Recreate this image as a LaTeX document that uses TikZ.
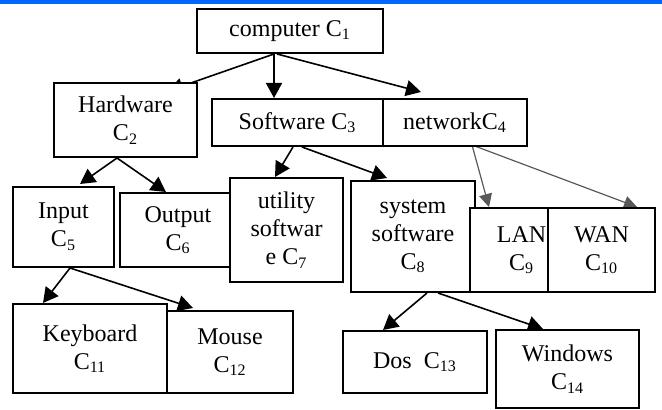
\documentclass[tikz,border=0pt]{standalone}
\usepackage{fontspec}
\setmainfont{Liberation Serif}
\usetikzlibrary{arrows.meta, backgrounds}
\definecolor{topbar}{RGB}{0,102,255}
\tikzstyle{box} = [rectangle, draw=black, fill=white, line width=1pt, align=center, inner sep=2pt, font=\fontsize{12}{14}\selectfont]
\tikzstyle{arrow} = [line width=0.8pt, -{Triangle[length=7.5pt,width=8pt]}]
\tikzstyle{greyarrow} = [line width=0.6pt, draw=black!65, -{Triangle[length=6.5pt,width=6.5pt]}]
\begin{document}
\begin{tikzpicture}[x=0.5pt, y=-0.5pt]
            \useasboundingbox (0,0) rectangle (662,410);
            \fill [topbar] (0,0) rectangle (662,4);
            \node (comp) [box, minimum width=93pt, minimum height=22pt] at (290,31) {computer C\textsubscript{1}};
            \node (hw) [box, minimum width=71.5pt, minimum height=37pt] at (125.5,120) {Hardware\\C\textsubscript{2}};
            \node (sw) [box, minimum width=85.5pt, minimum height=23.5pt] at (297.5,122.5) {Software C\textsubscript{3}};
            \node (net) [box, minimum width=72pt, minimum height=23.5pt] at (455,122.5) {networkC\textsubscript{4}};
            \node (inp) [box, minimum width=50.5pt, minimum height=40pt] at (63.5,227) {Input\\C\textsubscript{5}};
            \node (out) [box, minimum width=58pt, minimum height=37pt] at (178,230) {Output\\C\textsubscript{6}};
            \node (util) [box, minimum width=56.5pt, minimum height=52pt] at (286.5,230) {utility\\softwar\\e C\textsubscript{7}};
            \node (sys) [box, minimum width=62pt, minimum height=55.5pt] at (413,236.5) {system\\software\\C\textsubscript{8}};
            \node (lan) [box, minimum width=51.5pt, minimum height=42pt] at (521.5,250) {LAN\\C\textsubscript{9}};
            \node (wan) [box, minimum width=53.5pt, minimum height=42pt] at (601.5,250) {WAN\\C\textsubscript{10}};
            \node (kb) [box, minimum width=77pt, minimum height=44.5pt] at (90,348.5) {Keyboard\\C\textsubscript{11}};
            \node (mouse) [box, minimum width=63pt, minimum height=41pt] at (230,352) {Mouse\\C\textsubscript{12}};
            \node (dos) [box, minimum width=72pt, minimum height=31pt] at (415,362) {Dos\ \ C\textsubscript{13}};
            \node (win) [box, minimum width=71.5pt, minimum height=39pt] at (567.5,369) {Windows\\C\textsubscript{14}};
            \begin{scope}[on background layer]
            \draw [arrow] ([xshift=-8pt]comp.south) -- ([xshift=21.25pt,yshift=-4.5pt]hw.north);
            \draw [arrow] ([xshift=-8pt]comp.south) -- ([xshift=-11.75pt]sw.north);
            \draw [arrow] ([xshift=-6.5pt]comp.south) -- ([xshift=-17pt,yshift=3pt]net.north);
            \draw [arrow] ([xshift=-4.25pt]hw.south) -- ([xshift=8.25pt,yshift=1pt]inp.north);
            \draw [arrow] ([xshift=-4.25pt]hw.south) -- ([xshift=-6pt]out.north);
            \draw [arrow] ([xshift=-2.25pt]sw.south) -- ([xshift=-5.75pt]util.north);
            \draw [arrow] ([xshift=2.25pt]sw.south) -- ([xshift=-13pt,yshift=1pt]sys.north);
            \draw [greyarrow] ([xshift=8.5pt,yshift=1pt]net.south) -- ([xshift=-16.25pt]lan.north);
            \draw [greyarrow] ([xshift=8.5pt,yshift=1pt]net.south) -- ([xshift=17.75pt]wan.north);
            \draw [arrow] ([xshift=3.25pt]inp.south) -- ([xshift=-23.5pt]kb.north);
            \draw [arrow] ([xshift=3.25pt]inp.south) -- ([xshift=-18.5pt,yshift=1pt]mouse.north);
            \draw [arrow] ([xshift=7pt]sys.south) -- ([xshift=-16pt]dos.north);
            \draw [arrow] ([xshift=12.5pt]sys.south) -- ([xshift=-12.25pt]win.north);
            \end{scope}
\end{tikzpicture}
\end{document}
